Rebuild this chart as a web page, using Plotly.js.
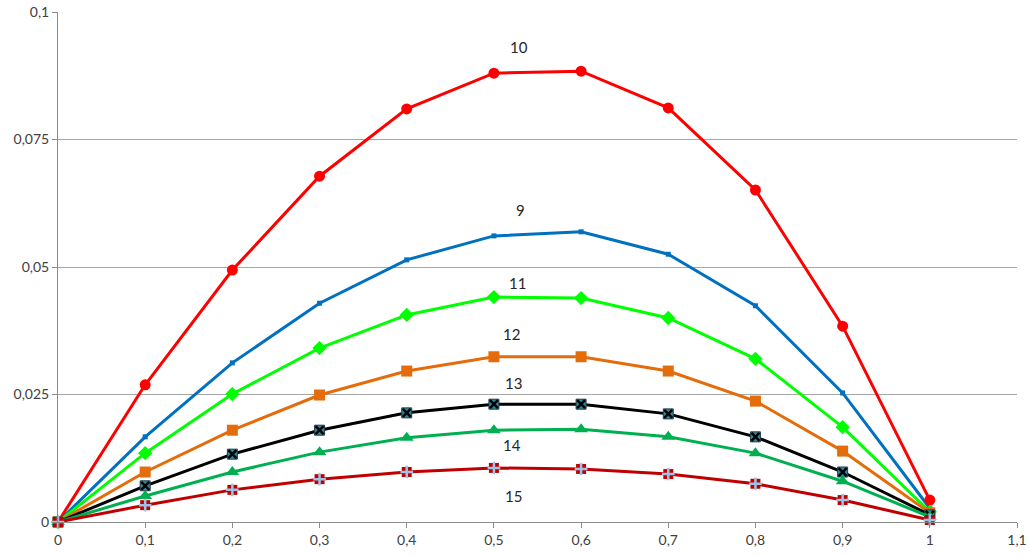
<!DOCTYPE html>
<html>
<head>
<meta charset="utf-8">
<script src="https://cdn.plot.ly/plotly-3.0.1.min.js"></script>
<style>html,body{margin:0;padding:0;background:#fff;}#chart{width:1030px;height:557px;}</style>
</head>
<body>
<div id="chart"></div>
<script>
const xValues = [0, 0.1, 0.2, 0.3, 0.4, 0.5, 0.6, 0.7, 0.8, 0.9, 1];
const s9  = [0, 0.0167, 0.0312, 0.0429, 0.0514, 0.0561, 0.0569, 0.0525, 0.0424, 0.0253, 0.0027];
const s10 = [0, 0.0269, 0.0494, 0.0678, 0.0810, 0.0880, 0.0884, 0.0812, 0.0651, 0.0384, 0.0043];
const s11 = [0, 0.0135, 0.0251, 0.0341, 0.0406, 0.0441, 0.0439, 0.0400, 0.0320, 0.0186, 0.0020];
const s12 = [0, 0.0098, 0.0180, 0.0249, 0.0296, 0.0324, 0.0324, 0.0296, 0.0237, 0.0139, 0.0018];
const s13 = [0, 0.0071, 0.0133, 0.0180, 0.0214, 0.0231, 0.0231, 0.0212, 0.0167, 0.0098, 0.0014];
const s14 = [0, 0.0051, 0.0098, 0.0137, 0.0165, 0.0180, 0.0182, 0.0167, 0.0135, 0.0080, 0.0010];
const s15 = [0, 0.0033, 0.0063, 0.0084, 0.0098, 0.0106, 0.0104, 0.0094, 0.0075, 0.0043, 0.0004];
const labelText = ["10", "9", "11", "12", "13", "14", "15"];
const labelX = [0.529, 0.530, 0.527, 0.520, 0.522, 0.521, 0.522];
const labelY = [0.0931, 0.0611, 0.0469, 0.0369, 0.0273, 0.0151, 0.0051];

function line(y, color, marker) {
  return {x: xValues, y: y, type: 'scatter', mode: 'lines+markers', cliponaxis: false,
          line: {color: color, width: 3}, marker: marker, hoverinfo: 'skip'};
}
function overlay(y, marker) {
  return {x: xValues, y: y, type: 'scatter', mode: 'markers', cliponaxis: false, marker: marker, hoverinfo: 'skip'};
}

const traces = [
  line(s9, '#0070C0', {symbol: 'square', size: 5, color: '#0070C0'}),
  line(s10, '#FF0000', {symbol: 'circle', size: 11, color: '#FF0000'}),
  line(s11, '#00FF00', {symbol: 'diamond', size: 11, color: '#00FF00'}),
  line(s12, '#E46C0A', {symbol: 'square', size: 11, color: '#E46C0A'}),
  line(s13, '#000000', {symbol: 'square', size: 10, color: '#31859C', line: {color: '#1F3F4A', width: 1}}),
  overlay(s13, {symbol: 'x-thin-open', size: 8, color: '#000000', line: {color: '#000000', width: 2.5}}),
  line(s14, '#00B050', {symbol: 'triangle-up', size: 12, color: '#00B050'}),
  line(s15, '#C00000', {symbol: 'square', size: 10, color: '#C00000'}),
  overlay(s15, {symbol: 'cross-thin-open', size: 9, color: '#9DC3E6', line: {color: '#9DC3E6', width: 2.5}})
];

const annotations = labelText.map((t, i) => ({
  x: labelX[i], y: labelY[i], text: t, showarrow: false,
  font: {family: 'Lato, "Open Sans", sans-serif', size: 15, color: '#262626'}
}));

const layout = {
  width: 1030, height: 557,
  margin: {l: 58, r: 13, t: 12, b: 35},
  paper_bgcolor: '#ffffff', plot_bgcolor: '#ffffff',
  separators: ', ',
  showlegend: false,
  font: {family: 'Lato, "Open Sans", sans-serif', size: 14, color: '#404040'},
  xaxis: {
    range: [0, 1.1], dtick: 0.1, tick0: 0, showgrid: false, zeroline: false,
    showline: true, linecolor: '#8c8c8c', linewidth: 1,
    ticks: 'outside', ticklen: 5, tickcolor: '#8c8c8c',
    tickfont: {size: 14, color: '#404040'}
  },
  yaxis: {
    range: [0, 0.1], dtick: 0.025, tick0: 0, showgrid: true, gridcolor: '#a6a6a6',
    zeroline: false, showline: true, linecolor: '#8c8c8c', linewidth: 1,
    ticks: 'outside', ticklen: 5, tickcolor: '#8c8c8c',
    tickfont: {size: 14, color: '#404040'}
  },
  annotations: annotations
};

Plotly.newPlot('chart', traces, layout, {displayModeBar: false, staticPlot: true});
</script>
</body>
</html>
